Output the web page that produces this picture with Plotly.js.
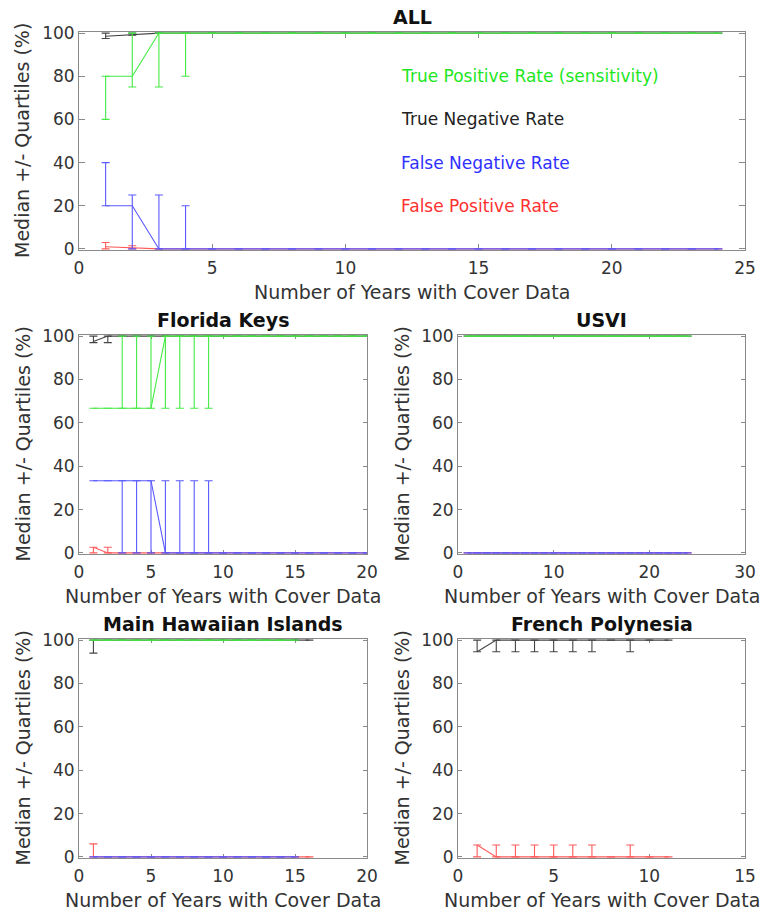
<!DOCTYPE html>
<html>
<head>
<meta charset="utf-8">
<script src="https://cdn.plot.ly/plotly-3.0.1.min.js"></script>
<style>
  html, body { margin: 0; padding: 0; background: #fff; }
  #chart { width: 761px; height: 912px; }
</style>
</head>
<body>
<div id="chart"></div>
<script>
// ---- ALL regions -------------------------------------------------------
const allYears = [1,2,3,4,5,6,7,8,9,10,11,12,13,14,15,16,17,18,19,20,21,22,23,24];
const allTprMed = [80,80,100,100,100,100,100,100,100,100,100,100,100,100,100,100,100,100,100,100,100,100,100,100];
const allTprLo  = [60,75,75,80,100,100,100,100,100,100,100,100,100,100,100,100,100,100,100,100,100,100,100,100];
const allTprHi  = [80,100,100,100,100,100,100,100,100,100,100,100,100,100,100,100,100,100,100,100,100,100,100,100];
const allTnrMed = [98.5,99.3,100,100,100,100,100,100,100,100,100,100,100,100,100,100,100,100,100,100,100,100,100,100];
const allTnrLo  = [97.5,99,100,100,100,100,100,100,100,100,100,100,100,100,100,100,100,100,100,100,100,100,100,100];
const allTnrHi  = [100,100,100,100,100,100,100,100,100,100,100,100,100,100,100,100,100,100,100,100,100,100,100,100];
const allFnrMed = [20,20,0,0,0,0,0,0,0,0,0,0,0,0,0,0,0,0,0,0,0,0,0,0];
const allFnrLo  = [20,0,0,0,0,0,0,0,0,0,0,0,0,0,0,0,0,0,0,0,0,0,0,0];
const allFnrHi  = [40,25,25,20,0,0,0,0,0,0,0,0,0,0,0,0,0,0,0,0,0,0,0,0];
const allFprMed = [1,0.5,0,0,0,0,0,0,0,0,0,0,0,0,0,0,0,0,0,0,0,0,0,0];
const allFprLo  = [0,0,0,0,0,0,0,0,0,0,0,0,0,0,0,0,0,0,0,0,0,0,0,0];
const allFprHi  = [3,1.5,0,0,0,0,0,0,0,0,0,0,0,0,0,0,0,0,0,0,0,0,0,0];

// ---- Florida Keys ------------------------------------------------------
const flYears = [1,2,3,4,5,6,7,8,9,10,11,12,13,14,15,16,17,18,19,20];
const flTprMed = [66.7,66.7,66.7,66.7,66.7,100,100,100,100,100,100,100,100,100,100,100,100,100,100,100];
const flTprLo  = [66.7,66.7,66.7,66.7,66.7,66.7,66.7,66.7,66.7,100,100,100,100,100,100,100,100,100,100,100];
const flTprHi  = [66.7,66.7,100,100,100,100,100,100,100,100,100,100,100,100,100,100,100,100,100,100];
const flTnrMed = [97.5,100,100,100,100,100,100,100,100,100,100,100,100,100,100,100,100,100,100,100];
const flTnrLo  = [97,97,100,100,100,100,100,100,100,100,100,100,100,100,100,100,100,100,100,100];
const flTnrHi  = [100,100,100,100,100,100,100,100,100,100,100,100,100,100,100,100,100,100,100,100];
const flFnrMed = [33.3,33.3,33.3,33.3,33.3,0,0,0,0,0,0,0,0,0,0,0,0,0,0,0];
const flFnrLo  = [33.3,33.3,0,0,0,0,0,0,0,0,0,0,0,0,0,0,0,0,0,0];
const flFnrHi  = [33.3,33.3,33.3,33.3,33.3,33.3,33.3,33.3,33.3,0,0,0,0,0,0,0,0,0,0,0];
const flFprMed = [2.6,0,0,0,0,0,0,0,0,0,0,0,0,0,0,0,0,0,0,0];
const flFprLo  = [0,0,0,0,0,0,0,0,0,0,0,0,0,0,0,0,0,0,0,0];
const flFprHi  = [2.6,2.6,0,0,0,0,0,0,0,0,0,0,0,0,0,0,0,0,0,0];

// ---- USVI --------------------------------------------------------------
const viYears = [1,2,3,4,5,6,7,8,9,10,11,12,13,14,15,16,17,18,19,20,21,22,23,24];
const viTpr = [100,100,100,100,100,100,100,100,100,100,100,100,100,100,100,100,100,100,100,100,100,100,100,100];
const viTnr = [100,100,100,100,100,100,100,100,100,100,100,100,100,100,100,100,100,100,100,100,100,100,100,100];
const viFnr = [0,0,0,0,0,0,0,0,0,0,0,0,0,0,0,0,0,0,0,0,0,0,0,0];
const viFpr = [0,0,0,0,0,0,0,0,0,0,0,0,0,0,0,0,0,0,0,0,0,0,0,0];

// ---- Main Hawaiian Islands ---------------------------------------------
const hiYearsPos = [1,2,3,4,5,6,7,8,9,10,11,12,13,14,15];
const hiYearsNeg = [1,2,3,4,5,6,7,8,9,10,11,12,13,14,15,16];
const hiTpr = [100,100,100,100,100,100,100,100,100,100,100,100,100,100,100];
const hiFnr = [0,0,0,0,0,0,0,0,0,0,0,0,0,0,0];
const hiTnrMed = [100,100,100,100,100,100,100,100,100,100,100,100,100,100,100,100];
const hiTnrLo  = [94,100,100,100,100,100,100,100,100,100,100,100,100,100,100,100];
const hiFprMed = [0,0,0,0,0,0,0,0,0,0,0,0,0,0,0,0];
const hiFprHi  = [6,0,0,0,0,0,0,0,0,0,0,0,0,0,0,0];

// ---- French Polynesia --------------------------------------------------
const fpYears = [1,2,3,4,5,6,7,8,9,10,11];
const fpTnrMed = [94.6,100,100,100,100,100,100,100,100,100,100];
const fpTnrLo  = [94.6,94.6,94.6,94.6,94.6,94.6,94.6,100,94.6,100,100];
const fpTnrHi  = [100,100,100,100,100,100,100,100,100,100,100];
const fpFprMed = [5.5,0,0,0,0,0,0,0,0,0,0];
const fpFprLo  = [0,0,0,0,0,0,0,0,0,0,0];
const fpFprHi  = [5.5,5.5,5.5,5.5,5.5,5.5,5.5,0,5.5,0,0];

// ---- labels ------------------------------------------------------------
const panelTitles = ['ALL', 'Florida Keys', 'USVI', 'Main Hawaiian Islands', 'French Polynesia'];
const rateLabels = ['True Positive Rate (sensitivity)', 'True Negative Rate', 'False Negative Rate', 'False Positive Rate'];
const rateLabelY = [80, 60, 40, 20];
const xTitle = 'Number of Years with Cover Data';
const yTitle = 'Median +/- Quartiles (%)';

const COL = {
  tpr: '#44ea44', tnr: '#444444', fnr: '#5a5aff', fpr: '#ff5a5a'
};
const TXT = {
  tpr: '#1ee61e', tnr: '#222222', fnr: '#3030ff', fpr: '#ff3030'
};
const FONT = 'DejaVu Sans, Verdana, sans-serif';

// median line with asymmetric quartile bars
function series(ax, x, med, lo, hi, color) {
  const up = med.map((m, i) => hi[i] - m);
  const dn = med.map((m, i) => m - lo[i]);
  return {
    type: 'scatter', mode: 'lines',
    x: x, y: med,
    xaxis: 'x' + ax, yaxis: 'y' + ax,
    line: { color: color, width: 1.1 },
    error_y: {
      type: 'data', symmetric: false, array: up, arrayminus: dn,
      color: color, thickness: 1.1, width: 4
    },
    showlegend: false, hoverinfo: 'x+y'
  };
}

const traces = [
  // ALL
  series('', allYears, allTnrMed, allTnrLo, allTnrHi, COL.tnr),
  series('', allYears, allFprMed, allFprLo, allFprHi, COL.fpr),
  series('', allYears, allTprMed, allTprLo, allTprHi, COL.tpr),
  series('', allYears, allFnrMed, allFnrLo, allFnrHi, COL.fnr),
  // Florida Keys
  series('2', flYears, flTnrMed, flTnrLo, flTnrHi, COL.tnr),
  series('2', flYears, flFprMed, flFprLo, flFprHi, COL.fpr),
  series('2', flYears, flTprMed, flTprLo, flTprHi, COL.tpr),
  series('2', flYears, flFnrMed, flFnrLo, flFnrHi, COL.fnr),
  // USVI
  series('3', viYears, viTnr, viTnr, viTnr, COL.tnr),
  series('3', viYears, viFpr, viFpr, viFpr, COL.fpr),
  series('3', viYears, viTpr, viTpr, viTpr, COL.tpr),
  series('3', viYears, viFnr, viFnr, viFnr, COL.fnr),
  // Main Hawaiian Islands
  series('4', hiYearsNeg, hiTnrMed, hiTnrLo, hiTnrMed, COL.tnr),
  series('4', hiYearsNeg, hiFprMed, hiFprMed, hiFprHi, COL.fpr),
  series('4', hiYearsPos, hiTpr, hiTpr, hiTpr, COL.tpr),
  series('4', hiYearsPos, hiFnr, hiFnr, hiFnr, COL.fnr),
  // French Polynesia
  series('5', fpYears, fpTnrMed, fpTnrLo, fpTnrHi, COL.tnr),
  series('5', fpYears, fpFprMed, fpFprLo, fpFprHi, COL.fpr)
];

// panel boxes in page pixels: [left, right, top, bottom]
const W = 761, H = 912;
const boxes = [
  [79, 745, 32, 250],
  [79, 367, 335, 554],
  [458, 745, 335, 554],
  [79, 367, 639, 858],
  [458, 745, 639, 858]
];
const xRanges = [[0, 25], [0, 20], [0, 30], [0, 20], [0, 15]];
const xDtick = [5, 5, 10, 5, 5];
// a half-unit margin keeps the 0 % and 100 % lines fully inside the frame
const yRange = [-0.5, 100.5];

function xAxis(i) {
  const b = boxes[i];
  return {
    domain: [b[0] / W, b[1] / W], range: xRanges[i], dtick: xDtick[i], tick0: 0,
    anchor: 'y' + (i ? i + 1 : ''),
    showgrid: false, zeroline: false, showline: true, mirror: 'ticks',
    linecolor: '#8a8a8a', linewidth: 1, ticks: 'inside', ticklen: i ? 4 : 6,
    tickcolor: '#8a8a8a', tickfont: { family: FONT, size: 17, color: '#333' },
    ticklabelstandoff: 3,
    layer: 'below traces', fixedrange: true
  };
}
function yAxis(i) {
  const b = boxes[i];
  return {
    domain: [1 - b[3] / H, 1 - b[2] / H], range: yRange, dtick: 20, tick0: 0,
    anchor: 'x' + (i ? i + 1 : ''),
    showgrid: false, zeroline: false, showline: true, mirror: 'ticks',
    linecolor: '#8a8a8a', linewidth: 1, ticks: 'inside', ticklen: i ? 4 : 6,
    tickcolor: '#8a8a8a', tickfont: { family: FONT, size: 17, color: '#333' },
    layer: 'below traces', fixedrange: true
  };
}

const annotations = [];
boxes.forEach((b, i) => {
  const cx = (b[0] + b[1]) / 2, cy = (b[2] + b[3]) / 2;
  annotations.push({
    text: '<b>' + panelTitles[i] + '</b>', xref: 'paper', yref: 'paper',
    x: cx / W, y: 1 - (b[2] - 15) / H, xanchor: 'center', yanchor: 'middle',
    showarrow: false, font: { family: FONT, size: 19, color: '#111' }
  });
  annotations.push({
    text: xTitle, xref: 'paper', yref: 'paper',
    x: cx / W, y: 1 - (b[3] + 42) / H, xanchor: 'center', yanchor: 'middle',
    showarrow: false, font: { family: FONT, size: 19, color: '#333' }
  });
  annotations.push({
    text: yTitle, xref: 'paper', yref: 'paper', textangle: -90,
    x: (b[0] - 57) / W, y: 1 - cy / H, xanchor: 'center', yanchor: 'middle',
    showarrow: false, font: { family: FONT, size: 19, color: '#333' }
  });
});
const rateColors = [TXT.tpr, TXT.tnr, TXT.fnr, TXT.fpr];
rateLabels.forEach((t, k) => {
  annotations.push({
    text: t, xref: 'x', yref: 'y', x: 12, y: rateLabelY[k],
    xanchor: 'left', yanchor: 'middle', showarrow: false,
    font: { family: FONT, size: 17, color: rateColors[k] }
  });
});

const layout = {
  width: W, height: H,
  margin: { l: 0, r: 0, t: 0, b: 0 },
  paper_bgcolor: '#fff', plot_bgcolor: '#fff',
  font: { family: FONT, color: '#333' },
  showlegend: false,
  annotations: annotations
};
for (let i = 0; i < 5; i++) {
  const s = i ? String(i + 1) : '';
  layout['xaxis' + s] = xAxis(i);
  layout['yaxis' + s] = yAxis(i);
}

Plotly.newPlot('chart', traces, layout, { displayModeBar: false, staticPlot: true });
</script>
</body>
</html>
